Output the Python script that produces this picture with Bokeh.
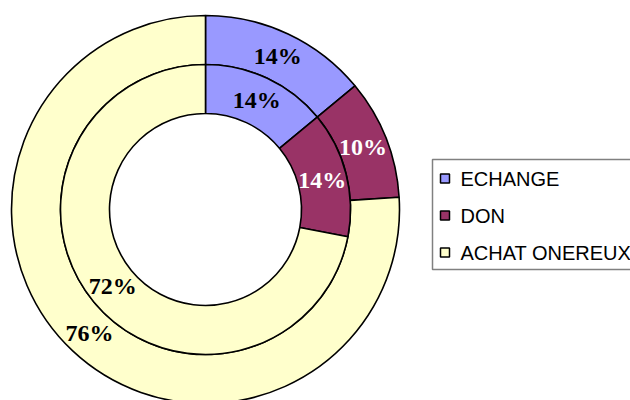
import numpy as np
from bokeh.plotting import figure
from bokeh.models import Range1d, ColumnDataSource
from bokeh.core.properties import value
from bokeh.embed import file_html
from bokeh.resources import INLINE

categories = ["ECHANGE", "DON", "ACHAT ONEREUX"]
outer_pct = [14, 10, 76]
inner_pct = [14, 14, 72]
colors = ["#9999FF", "#993366", "#FFFFCC"]
label_colors = ["black", "white", "black"]

R_OUT, R_MID, R_HOLE = 194, 145, 96

p = figure(width=630, height=400, output_backend="svg", toolbar_location=None,
           x_range=Range1d(-205, 425), y_range=Range1d(-191, 209),
           min_border=0, outline_line_color=None, background_fill_color="white")
p.axis.visible = False
p.grid.visible = False


def ring(pcts, r_in, r_out):
    vals = np.array(pcts, dtype=float)
    frac = vals / vals.sum()
    cum = np.concatenate([[0], np.cumsum(frac)])
    start = np.pi / 2 - 2 * np.pi * cum[:-1]
    end = np.pi / 2 - 2 * np.pi * cum[1:]
    mid = np.pi / 2 - 2 * np.pi * (cum[:-1] + cum[1:]) / 2
    rm = (r_in + r_out) / 2
    src = ColumnDataSource(dict(start=start, end=end, color=colors,
                                lx=rm * np.cos(mid), ly=rm * np.sin(mid),
                                label=[f"{v:g}%" for v in pcts],
                                lcolor=label_colors))
    p.annular_wedge(x=0, y=0, inner_radius=r_in, outer_radius=r_out,
                    start_angle="start", end_angle="end", direction="clock",
                    fill_color="color", line_color="black", line_width=1.6,
                    source=src)
    p.text(x="lx", y="ly", text="label", text_color="lcolor",
           text_font=value("Liberation Serif"), text_font_style="bold",
           text_font_size="24px", text_align="center", text_baseline="middle",
           source=src)


ring(outer_pct, R_MID, R_OUT)
ring(inner_pct, R_HOLE, R_MID)

# legend
p.quad(left=[227], right=[440], top=[50], bottom=[-60], fill_color="white",
       line_color="#808080", line_width=1.5)
ys = [31, -6, -43]
p.rect(x=[239.5] * 3, y=ys, width=9, height=9, fill_color=colors,
       line_color="black", line_width=1.5)
p.text(x=[255] * 3, y=ys, text=categories, text_color="black",
       text_font=value("Liberation Sans"), text_font_size="20px",
       text_align="left", text_baseline="middle")

open("out.html", "w").write(file_html(p, INLINE))
